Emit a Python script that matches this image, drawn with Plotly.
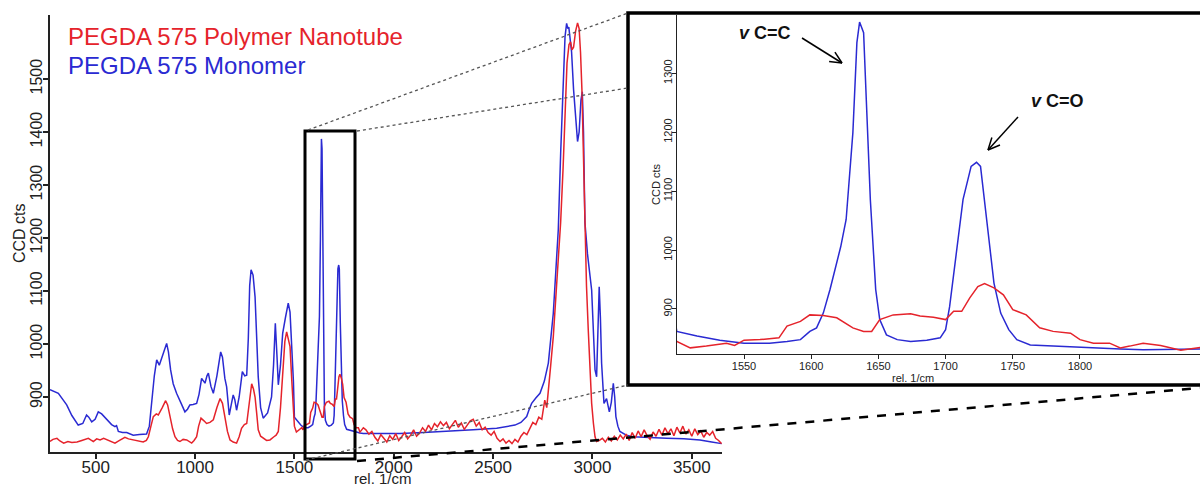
import math
import plotly.graph_objects as go

# ---------------- data ----------------
wn_blue = [270, 290, 312, 335, 354, 380, 412, 435, 454, 465, 480, 497, 513, 530, 555, 580, 597, 605, 614, 635,
           656, 689, 720, 756, 770, 781, 795, 807, 820, 840, 857, 866, 877, 890, 907, 930, 949, 962, 974, 990,
           1008, 1020, 1033, 1043, 1050, 1060, 1067, 1080, 1092, 1110, 1122, 1129, 1138, 1150, 1159, 1172, 1182,
           1192, 1200, 1209, 1222, 1238, 1250, 1260, 1268, 1275, 1282, 1292, 1302, 1310, 1318, 1330, 1343, 1365,
           1385, 1395, 1404, 1412, 1419, 1430, 1441, 1455, 1469, 1478, 1486, 1495,
           1500, 1515, 1532, 1550, 1569, 1582, 1592, 1599, 1604, 1609, 1614, 1622, 1626, 1631, 1634, 1636, 1639,
           1641, 1644, 1648, 1651, 1656, 1664, 1674, 1686, 1696, 1700, 1703, 1708, 1713, 1719, 1723, 1726, 1731,
           1736, 1741, 1747, 1753, 1763, 1780, 1805, 1830, 1847,
           1870, 1900, 1950, 2031, 2150, 2283, 2400, 2518, 2580, 2610, 2640, 2669, 2680, 2694, 2715, 2736, 2758,
           2778, 2803, 2815, 2828, 2840, 2852, 2862, 2870, 2876, 2881, 2888, 2895, 2905, 2915, 2925, 2933, 2942,
           2949, 2955, 2962, 2975, 2996, 3005, 3013, 3021, 3028, 3034, 3040, 3046, 3058, 3071, 3085, 3095, 3105,
           3112, 3118, 3128, 3138, 3170, 3205, 3290, 3373, 3460, 3541, 3600, 3650]
cts_blue = [914, 910, 907, 895, 885, 865, 847, 850, 866, 862, 853, 858, 872, 868, 857, 848, 844, 846, 835, 833,
            833, 828, 829, 830, 845, 889, 940, 970, 960, 982, 1001, 985, 951, 925, 907, 888, 872, 877, 885, 886,
            888, 905, 935, 930, 926, 940, 945, 920, 907, 940, 975, 985, 975, 935, 919, 866, 885,
            904, 895, 875, 900, 948, 940, 941, 1010, 1110, 1140, 1130, 1089, 1010, 938, 880, 860, 870,
            900, 960, 1039, 980, 923, 960, 1020, 1050, 1077, 1060, 1008, 930,
            862, 854, 847, 842, 842, 845, 848, 862, 868, 893, 933, 1006, 1052, 1199, 1352, 1387, 1369,
            1255, 1086, 933, 882, 856, 848, 845, 847, 851, 865, 904, 995, 1086, 1142, 1149, 1142, 1040,
            944, 893, 865, 848, 839, 837, 834, 832, 831,
            831, 832, 831, 831, 833, 835, 838, 841, 845, 847, 852, 863, 875, 888, 898, 907, 930,
            964, 1058, 1130, 1215, 1360, 1500, 1580, 1605, 1595, 1598, 1570, 1551, 1480, 1420, 1382, 1400, 1460,
            1476, 1400, 1230, 1170, 1102, 1030, 951, 938, 1020, 1108, 1050, 964, 888, 897, 872, 890, 926,
            900, 863, 845, 835, 828, 825, 823, 822, 821, 819, 815, 812]

wn_red = [270, 285, 305, 320, 339, 360, 380, 406, 430, 450, 463, 475, 488, 505, 522, 540, 555, 575, 597, 620,
          647, 665, 689, 710, 739, 755, 765, 778, 790, 805, 815, 835, 852, 862, 874, 887, 899, 912, 924, 940,
          958, 970, 983, 995, 1008, 1018, 1030, 1045, 1058, 1075, 1092, 1110, 1126, 1138, 1151, 1163, 1176,
          1192, 1209, 1222, 1234, 1248, 1260, 1272, 1285, 1294, 1302, 1310, 1318, 1330, 1343, 1360, 1377, 1387,
          1397, 1408, 1419, 1430, 1441, 1452, 1461, 1470, 1478, 1487, 1495,
          1500, 1510, 1522, 1537, 1543, 1550, 1562, 1572, 1576, 1582, 1592, 1599, 1609, 1619, 1631, 1639, 1645,
          1651, 1661, 1674, 1681, 1691, 1700, 1706, 1712, 1718, 1724, 1729, 1736, 1743, 1750, 1760, 1765, 1770,
          1780, 1793, 1800, 1810, 1822, 1830, 1837, 1847,
          1860, 1875, 1890, 1905, 1920, 1935, 1950, 1965, 1980, 1995, 2010, 2025, 2040, 2055, 2070, 2085, 2100,
          2115, 2130, 2145, 2160, 2175, 2190, 2205, 2220, 2235, 2250, 2265, 2280, 2295, 2310, 2325, 2340, 2355,
          2370, 2385, 2400, 2415, 2430, 2445, 2460, 2475, 2490, 2505, 2520, 2535, 2550, 2565, 2580, 2595, 2610,
          2625, 2640, 2655, 2670, 2685, 2700, 2715, 2730, 2745,
          2760, 2770, 2778, 2790, 2803, 2815, 2828, 2840, 2852, 2862, 2872, 2882, 2890, 2897, 2905, 2915, 2925,
          2933, 2940, 2947, 2955, 2962, 2970, 2979, 2988, 2996, 3005, 3013, 3021,
          3035, 3050, 3065, 3080, 3095, 3110, 3125, 3140, 3155, 3170, 3185, 3200, 3215, 3230, 3245, 3260, 3275,
          3290, 3305, 3320, 3335, 3350, 3365, 3380, 3395, 3410, 3425, 3440, 3455, 3470, 3485, 3500, 3515, 3530,
          3545, 3560, 3575, 3590, 3605, 3620, 3635, 3650]
cts_red = [816, 820, 822, 817, 813, 816, 814, 815, 818, 820, 822, 819, 816, 821, 819, 822, 820, 817, 813, 818,
           824, 821, 819, 817, 815, 818, 825, 845, 863, 868, 866, 880, 893, 885, 863, 840, 825, 818, 816, 820,
           819, 816, 813, 818, 825, 845, 860, 855, 850, 852, 857, 880, 897, 888, 863, 835, 819,
           815, 813, 825, 841, 848, 850, 885, 925, 915, 900, 870, 838, 826, 822, 818, 819, 823,
           825, 828, 835, 880, 951, 1005, 1023, 1010, 995, 930, 863,
           845, 834, 837, 842, 838, 847, 848, 851, 851, 871, 879, 890, 889, 885, 868, 862, 862,
           882, 890, 892, 888, 886, 882, 896, 896, 919, 938, 943, 936, 924, 899, 890, 879, 868,
           862, 859, 848, 842, 842, 834, 837, 842,
           838, 830, 835, 824, 817, 829, 822, 815, 827, 820, 831, 818, 825, 833, 821, 828, 838,
           826, 832, 842, 835, 847, 838, 850, 844, 853, 846, 852, 840, 849, 856, 843, 851, 839,
           848, 855, 858, 845, 852, 838, 843, 833, 828, 835, 822, 816, 821, 813, 818, 812, 820,
           815, 826, 833, 829, 840, 852, 848, 862, 858,
           894, 880, 919, 960, 1014, 1080, 1152, 1230, 1330, 1440, 1530, 1565, 1570, 1555, 1560, 1590, 1606,
           1595, 1550, 1480, 1350, 1215, 1110, 1026, 950, 888, 850, 825, 816,
           818, 822, 815, 824, 817, 826, 819, 828, 821, 830, 818, 833, 822, 836, 825, 838, 827,
           820, 834, 826, 839, 828, 842, 831, 840, 827, 843, 832, 845, 830, 838, 826, 840, 829,
           836, 824, 833, 828, 835, 822, 818, 812]

main_xticks = [500, 1000, 1500, 2000, 2500, 3000, 3500]
main_yticks = [900, 1000, 1100, 1200, 1300, 1400, 1500]
inset_xticks = [1550, 1600, 1650, 1700, 1750, 1800]
inset_yticks = [900, 1000, 1100, 1200, 1300]

name_red = "PEGDA 575 Polymer Nanotube"
name_blue = "PEGDA 575 Monomer"

RED = "#e5232b"
BLUE = "#2a2ad2"
FONT = "Arial, Liberation Sans, sans-serif"
W, H = 1200, 488


def px(x, y):
    return x / W, 1 - y / H


fig = go.Figure()
for xa, ya in (("x", "y"), ("x2", "y2")):
    fig.add_trace(go.Scatter(x=wn_blue, y=cts_blue, mode="lines", name=name_blue,
                             line=dict(color=BLUE, width=1.5), xaxis=xa, yaxis=ya, showlegend=False))
    fig.add_trace(go.Scatter(x=wn_red, y=cts_red, mode="lines", name=name_red,
                             line=dict(color=RED, width=1.5), xaxis=xa, yaxis=ya, showlegend=False))

axis_common = dict(showgrid=False, zeroline=False, showline=True, linecolor="#222",
                   ticks="outside", tickcolor="#222", mirror=False)

fig.update_layout(
    width=W, height=H, margin=dict(l=0, r=0, t=0, b=0),
    paper_bgcolor="white", plot_bgcolor="white",
    font=dict(family=FONT, color="#222"),
    xaxis=dict(domain=[50 / W, 722 / W], range=[270, 3652], tickvals=main_xticks,
               linewidth=1.5, tickwidth=1.5, ticklen=5, tickfont=dict(size=17), ticklabelstandoff=-6,
               anchor="y", **axis_common),
    yaxis=dict(domain=[1 - 452 / H, 1 - 15 / H], range=[796.2, 1620.8], tickvals=main_yticks,
               tickangle=-90, linewidth=1.5, tickwidth=1.5, ticklen=5, tickfont=dict(size=16),
               ticklabelstandoff=-5, anchor="x", **axis_common),
    xaxis2=dict(domain=[676.8 / W, 1.0], range=[1500, 1889.3], tickvals=inset_xticks,
                linewidth=1, tickwidth=1, ticklen=4, tickfont=dict(size=11), ticklabelstandoff=-2,
                anchor="y2", **axis_common),
    yaxis2=dict(domain=[1 - 354 / H, 1 - 15 / H], range=[823.6, 1399], tickvals=inset_yticks,
                tickangle=-90, linewidth=1, tickwidth=1, ticklen=4, tickfont=dict(size=11),
                ticklabelstandoff=-5, anchor="x2", **axis_common),
)

shapes = []
# inset frame
x0, y0 = px(628, 385)
x1, y1 = px(1215, 13)
shapes.append(dict(type="rect", xref="paper", yref="paper", x0=x0, y0=y0, x1=x1, y1=y1,
                   line=dict(color="black", width=3.5), layer="above"))
# zoom box in main chart
x0, y0 = px(305, 459)
x1, y1 = px(355, 131)
shapes.append(dict(type="rect", xref="paper", yref="paper", x0=x0, y0=y0, x1=x1, y1=y1,
                   line=dict(color="black", width=3), layer="above"))


def seg(a, b, color, width, dash):
    xa, ya = px(*a)
    xb, yb = px(*b)
    return dict(type="line", xref="paper", yref="paper", x0=xa, y0=ya, x1=xb, y1=yb,
                line=dict(color=color, width=width, dash=dash), layer="above")


shapes.append(seg((308, 130), (628, 13), "#555", 1.3, "dot"))
shapes.append(seg((357, 131), (628, 88), "#555", 1.3, "dot"))
shapes.append(seg((306, 460), (628, 385), "#555", 1.3, "dot"))
shapes.append(seg((357, 461), (1200, 388), "black", 2.5, "dash"))


def arrow(tail, tip, L=13, ang=25):
    dx, dy = tip[0] - tail[0], tip[1] - tail[1]
    n = math.hypot(dx, dy)
    ux, uy = dx / n, dy / n
    out = [seg(tail, tip, "black", 1.5, "solid")]
    for s in (1, -1):
        a = math.radians(ang) * s
        wx = -(ux * math.cos(a) - uy * math.sin(a)) * L
        wy = -(ux * math.sin(a) + uy * math.cos(a)) * L
        out.append(seg(tip, (tip[0] + wx, tip[1] + wy), "black", 1.5, "solid"))
    return out


shapes += arrow((802, 38), (842, 63))
shapes += arrow((1018, 117), (988, 150))
fig.update_layout(shapes=shapes)


def ann(x, y, text, size, color="#222", xanchor="center", angle=0):
    xp, yp = px(x, y)
    return dict(xref="paper", yref="paper", x=xp, y=yp, text=text, showarrow=False,
                xanchor=xanchor, yanchor="middle", textangle=angle,
                font=dict(family=FONT, size=size, color=color))


anns = [
    ann(66, 37, name_red, 24, RED, "left"),
    ann(66, 65, name_blue, 24, BLUE, "left"),
    ann(19, 233, "CCD cts", 16, angle=-90),
    ann(383, 478, "rel. 1/cm", 15),
    ann(656, 185, "CCD cts", 11, angle=-90),
    ann(913, 378, "rel. 1/cm", 11),
    ann(737, 33, "<b><i>v</i> C=C</b>", 18, "#111", "left"),
    ann(1029, 101, "<b><i>v</i> C=O</b>", 18, "#111", "left"),
]
fig.update_layout(annotations=anns)

fig.write_html("out.html", config={"displayModeBar": False},
               post_script="document.body.style.margin='0';document.body.style.overflow='hidden';")
